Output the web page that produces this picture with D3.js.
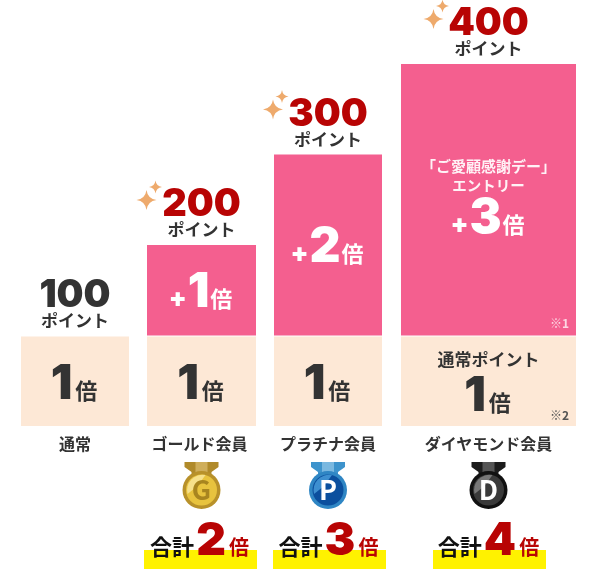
<!DOCTYPE html>
<html>
<head>
<meta charset="utf-8">
<script src="https://cdn.jsdelivr.net/npm/d3@7"></script>
<style>
  html, body { margin: 0; padding: 0; background: #fff; }
  svg { display: block; filter: blur(0.45px); }
  text { font-family: "Noto Sans CJK JP", "Noto Sans", sans-serif; font-weight: 700; }
</style>
</head>
<body>
<svg id="chart" width="600" height="569"></svg>
<script>
// values
const tiers = ['通常', 'ゴールド会員', 'プラチナ会員', 'ダイヤモンド会員'];
const basePoints = [100, 200, 300, 400];
const baseTimes = [1, 1, 1, 1];
const bonusTimes = [0, 1, 2, 3];
const totalTimes = [null, 2, 3, 4];
const medalLetters = [null, 'G', 'P', 'D'];
const bonusTitle = ['「ご愛顧感謝デー」', 'エントリー'];
const baseTitle = '通常ポイント';
const noteBonus = '※1';
const noteBase = '※2';
const unitPoint = 'ポイント';
const unitTimes = '倍';
const totalWord = '合計';

const pink = '#f45f8f', peach = '#fde8d6', dark = '#333', red = '#b80404';
const digitFont = 'Inter, "Noto Sans", sans-serif';
const medalColors = {
  G: { ribbon: '#b08a2a', stripe: '#cfae5a', rim: '#b8912a', face: '#e8c33e', shine: '#f6e08a', text: '#a8851f' },
  P: { ribbon: '#3d93cc', stripe: '#7ab8e0', rim: '#2f86c4', face: '#0b4f9e', shine: '#3d8fd0', text: '#fff' },
  D: { ribbon: '#1c1c1c', stripe: '#555', rim: '#111', face: '#3a3a3a', shine: '#777', text: '#fff' },
};

const svg = d3.select('#chart');
const rows = tiers.map((t, i) => ({
  tier: t, i, points: basePoints[i], base: baseTimes[i], bonus: bonusTimes[i],
  total: totalTimes[i], letter: medalLetters[i],
}));

// bars are not the same width so band scale does not fit, ordinal ones do
const x0 = d3.scaleOrdinal().domain(tiers).range([21, 147, 274, 401]);
const wid = d3.scaleOrdinal().domain(tiers).range([108, 109, 108, 175]);
const hiX = d3.scaleOrdinal().domain(tiers).range([0, 144, 273, 433]);
const y = d3.scaleLinear().domain([0, 4]).range([426, 64]);
const cx = (d) => x0(d.tier) + wid(d.tier) / 2;

// centered text made of runs with different sizes
const runs = (g, px, py, parts, fill) => {
  const t = g.append('text').attr('x', px).attr('y', py)
    .attr('text-anchor', 'middle').attr('fill', fill);
  parts.forEach((p) => {
    const s = t.append('tspan').attr('font-size', p.size).text(p.text);
    if (p.dx) s.attr('dx', p.dx);
    if (p.fill) s.attr('fill', p.fill);
    if (p.digit) s.attr('font-family', digitFont).attr('font-weight', 900);
  });
  return t;
};

const sparkle = (g, px, py, r) => {
  const k = r * 0.12;
  g.append('path')
    .attr('d', `M${px},${py - r}Q${px + k},${py - k} ${px + r},${py}Q${px + k},${py + k} ${px},${py + r}Q${px - k},${py + k} ${px - r},${py}Q${px - k},${py - k} ${px},${py - r}Z`)
    .attr('fill', '#eeaa6c');
};

// bars
const g = svg.selectAll('g.tier').data(rows).enter().append('g').attr('class', 'tier');
g.append('rect')
  .attr('x', (d) => x0(d.tier)).attr('width', (d) => wid(d.tier))
  .attr('y', (d) => y(d.base) + 1).attr('height', (d) => y(0) - y(d.base) - 1)
  .attr('fill', peach);
g.filter((d) => d.bonus > 0).append('rect')
  .attr('x', (d) => x0(d.tier)).attr('width', (d) => wid(d.tier))
  .attr('y', (d) => y(d.base + d.bonus)).attr('height', (d) => y(d.base) - y(d.base + d.bonus))
  .attr('fill', pink);

g.each(function (d) {
  const sel = d3.select(this);
  const c = cx(d);
  const top = y(d.base + d.bonus);
  const col = d.i === 0 ? dark : red;

  // point labels over the bar
  runs(sel, c, top - 29, [{ text: d.points, size: 38, digit: true }], col);
  runs(sel, c, top - 9, [{ text: unitPoint, size: 17 }], dark);
  if (d.i > 0) {
    sparkle(sel, c - 55, top - 45, 10);
    sparkle(sel, c - 46, top - 58, 6.5);
  }

  // base multiplier
  const baseY = d.i === 3 ? y(0) - 15 : y(0) - 27;
  runs(sel, c - 1, baseY, [
    { text: d.base, size: 48, digit: true },
    { text: unitTimes, size: 22, dx: 3 },
  ], dark);

  // bonus multiplier
  if (d.bonus > 0) {
    const bonusY = d.i === 3 ? y(2) - 12 : (y(d.base) + top) / 2 + 17;
    runs(sel, c - 1, bonusY, [
      { text: '+', size: 26, digit: true },
      { text: d.bonus, size: 48, digit: true, dx: 1 },
      { text: unitTimes, size: 22, dx: 1 },
    ], '#fff');
  }

  // tier name
  sel.append('text').attr('x', c - (d.i === 1 ? 2 : 0)).attr('y', 450).attr('text-anchor', 'middle')
    .attr('font-size', 16).attr('fill', dark).text(d.tier);

  // medal + total
  if (d.letter) {
    const m = medalColors[d.letter];
    const medal = sel.append('g').attr('transform', `translate(${c},490)`);
    medal.append('path').attr('d', 'M-17,-28H17V-23L10,-18V-10H-10V-18L-17,-23Z').attr('fill', m.ribbon);
    medal.append('rect').attr('x', -6).attr('y', -28).attr('width', 12).attr('height', 12).attr('fill', m.stripe);
    medal.append('circle').attr('r', 19).attr('fill', m.rim);
    medal.append('circle').attr('r', 15.5).attr('fill', m.face);
    medal.append('path').attr('d', 'M-14,4A15.5,15.5 0 0 1 4,-15L-4,-4Z').attr('fill', m.shine);
    medal.append('text').attr('y', 9.5).attr('text-anchor', 'middle')
      .attr('font-family', digitFont).attr('font-weight', 800)
      .attr('font-size', 27).attr('fill', m.text).text(d.letter);

    sel.append('rect').attr('x', hiX(d.tier)).attr('width', 113).attr('y', 550).attr('height', 19).attr('fill', '#fff200');
    runs(sel, hiX(d.tier) + 55.5, 555, [
      { text: totalWord, size: 22, fill: '#111' },
      { text: d.total, size: 46, digit: true, fill: red, dx: 2 },
      { text: unitTimes, size: 20, fill: red, dx: 3 },
    ], '#111');
  }
});

// extra lines in the big bar
const big = rows[3];
const bigX = cx(big);
bonusTitle.forEach((s, i) => {
  svg.append('text').attr('x', bigX).attr('y', 172 + i * 19).attr('text-anchor', 'middle')
    .attr('font-size', i === 0 ? 15 : 14.5).attr('fill', '#fff').attr('fill-opacity', 0.92).text(s);
});
svg.append('text').attr('x', bigX).attr('y', 366).attr('text-anchor', 'middle')
  .attr('font-size', 17).attr('fill', dark).text(baseTitle);
svg.append('text').attr('x', 569).attr('y', 328).attr('text-anchor', 'end')
  .attr('font-size', 12).attr('fill', '#fff').attr('fill-opacity', 0.75).text(noteBonus);
svg.append('text').attr('x', 569).attr('y', 420).attr('text-anchor', 'end')
  .attr('font-size', 12).attr('fill', '#555').text(noteBase);
</script>
</body>
</html>
